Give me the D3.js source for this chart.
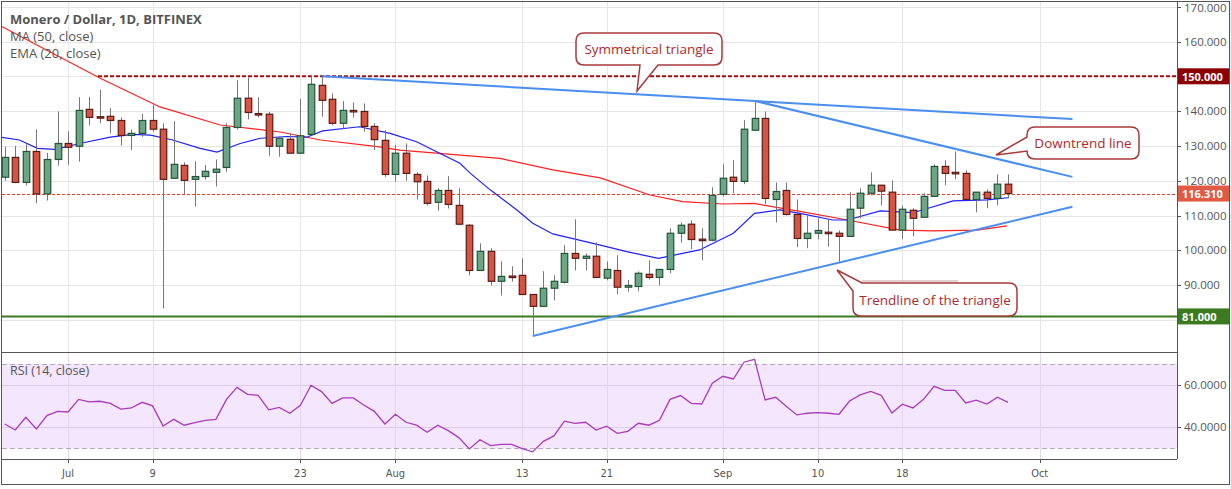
<!DOCTYPE html>
<html>
<head>
<meta charset="utf-8">
<script src="https://cdn.jsdelivr.net/npm/d3@7"></script>
<style>
  body { margin: 0; background: #fff; }
  svg { display: block; font-family: "Open Sans", sans-serif; }
</style>
</head>
<body>
<svg id="chart" width="1231" height="489"></svg>
<script>
// candles from Jun 25 to Sep 28, one per day
const opens  = [121.0,126.7,119.5,128.4,116.2,126.1,130.7,129.9,140.5,138.4,138.5,137.3,133.0,133.6,137.3,134.8,120.7,124.4,120.4,121.2,122.4,123.8,135.3,143.7,139.3,139.1,129.9,131.9,
  127.9,133.3,147.4,143.4,136.5,140.2,139.9,135.6,131.6,121.8,127.9,121.8,119.8,113.8,117.2,112.9,107.2,94.2,99.7,91.1,92.6,92.8,87.3,83.9,89.1,90.8,99.1,97.7,
  98.3,92.0,94.2,89.4,89.6,93.1,92.2,94.5,104.9,107.5,103.2,102.9,116.1,121.0,119.8,134.5,137.9,114.6,117.2,110.3,103.4,104.9,105.2,104.9,104.0,112.1,116.4,
  118.7,116.7,105.8,111.5,109.5,115.5,124.1,122.4,122.1,114.6,116.7,114.9,119.0]
const closes = [126.7,119.5,128.4,116.2,126.1,130.7,129.6,140.2,138.2,138.0,137.3,133.0,133.6,137.3,134.8,120.4,124.7,120.1,121.2,122.7,123.3,135.3,143.7,139.6,139.1,129.9,132.2,127.9,
  132.9,147.7,143.1,136.5,140.2,139.9,135.6,131.8,121.8,127.9,122.1,119.7,113.5,117.2,113.2,107.5,94.2,99.7,91.1,92.5,92.5,87.3,83.9,89.1,91.1,99.1,97.7,98.3,
  92.2,94.5,89.4,89.9,93.4,92.2,94.5,104.9,107.2,103.1,102.9,115.8,120.7,119.8,134.8,137.9,114.9,116.9,110.3,103.4,104.9,105.7,104.9,104.0,111.8,116.4,118.7,
  117.0,105.8,111.8,109.2,115.5,124.1,122.1,122.1,114.6,116.7,114.9,119.0,116.31]
const highs  = [129.8,130.0,130.5,134.7,128.0,139.9,134.2,144.0,144.1,146.1,140.9,138.2,134.7,139.2,141.7,136.5,137.1,125.3,125.6,124.5,126.1,136.5,148.9,149.7,144.0,139.8,132.6,133.6,
  143.5,150.4,150.1,145.1,142.9,142.5,142.2,136.5,134.5,130.2,130.7,122.5,121.5,117.9,121.3,117.8,107.5,102.0,100.6,96.8,95.4,97.7,87.3,94.0,92.8,101.5,108.9,99.1,
  102.3,96.8,98.6,91.5,93.9,97.1,94.5,106.3,108.0,108.6,106.3,118.1,124.7,125.9,137.4,142.8,139.9,119.5,119.5,114.6,110.1,109.2,108.9,105.7,116.7,117.8,122.4,
  118.7,120.1,112.9,112.1,116.4,124.7,125.9,128.4,123.0,116.7,117.5,121.8,121.8]
const lows   = [120.0,119.5,118.6,113.5,114.3,124.3,124.6,125.5,135.9,136.5,133.6,130.1,128.8,132.6,134.1,83.3,120.7,116.2,112.6,120.3,118.3,122.6,134.7,137.6,138.2,127.2,126.9,127.9,
  127.9,133.3,138.4,136.0,134.8,138.2,134.1,128.8,121.1,119.7,120.0,114.6,112.9,111.4,112.0,107.2,92.8,94.2,89.9,87.0,91.0,87.3,75.3,83.9,85.6,90.5,94.2,94.2,
  92.2,91.4,87.4,88.1,88.2,91.6,89.9,93.4,102.2,100.3,97.1,102.6,115.5,116.4,119.0,134.5,113.2,108.0,110.0,100.9,100.6,103.2,101.1,96.3,104.0,109.2,115.8,
  112.9,105.8,103.2,104.0,109.5,115.5,118.7,120.4,114.6,110.9,112.1,112.9,114.9]
const rsi = [41.6,38.7,44.8,39.2,45.6,47.6,47.3,53.3,52.1,52.4,51.4,48.7,49.2,51.9,50.2,40.6,43.8,41.0,42.2,43.3,43.8,53.3,59.0,55.7,55.2,48.3,49.5,46.7,50.5,60.0,
  57.0,51.4,54.0,54.0,50.6,47.6,41.6,46.2,42.4,41.0,37.6,41.0,38.4,35.1,29.7,34.1,31.3,31.9,31.9,29.8,28.3,33.3,35.9,42.9,41.9,42.4,38.7,
  40.5,37.1,38.1,41.9,41.0,43.3,53.3,55.1,51.4,51.1,61.0,64.3,63.0,71.0,72.4,53.0,54.3,50.0,45.9,46.7,47.0,46.7,46.2,52.5,55.4,57.1,55.2,46.8,51.0,
  49.2,53.3,59.5,57.6,57.6,51.6,52.9,51.1,54.3,51.9]

// moving averages: [candle index, value]
const ma50 = [[-0.4,164.5],[9.0,149.5],[14.7,141.2],[20.4,136.0],[26.1,134.0],[29.9,131.7],[35.5,129.7],[37.4,128.8],[46.9,126.4],[51.9,123.1],
  [56.4,120.8],[61.1,115.9],[64.2,114.0],[68.0,113.3],[70.9,113.5],[75.3,111.2],[79.8,108.7],[84.8,105.8],[87.9,105.6],[92.1,105.8],[94.9,107.0]]
const ema20 = [[-0.4,132.5],[1.4,131.7],[3.1,129.3],[4.8,129.0],[7.1,130.7],[10.0,132.5],[12.1,133.3],[13.8,133.1],[15.9,131.7],[18.5,129.3],
  [20.1,128.2],[22.3,130.7],[24.2,132.2],[26.7,132.7],[28.6,132.5],[30.1,134.3],[33.6,135.5],[36.5,133.6],[39.0,131.2],[40.9,128.3],[43.1,125.0],
  [44.1,122.1],[46.0,117.3],[48.5,111.6],[50.0,107.8],[51.9,104.7],[56.4,101.5],[58.9,99.6],[61.9,97.7],[65.8,100.1],[69.0,104.9],[71.0,110.6],
  [73.4,111.6],[75.3,110.6],[78.4,108.7],[79.8,108.7],[82.9,111.3],[86.0,110.8],[89.8,114.2],[93.0,114.5],[95.0,115.1]]

const trendLines = [
  [[30.05,150.0],[101.1,137.7]],
  [[71.06,142.9],[101.1,121.1]],
  [[50.0,75.4],[101.1,112.5]]
]

const tickIdx = [6,14,28,37,49,57,68,77,85,98]
const tickLabels = ['Jul','9','23','Aug','13','21','Sep','10','18','Oct']
const priceTicks = [170,160,150,140,130,120,110,100,90]
const rsiTicks = [60,40]
const levels = [150, 116.31, 81]
const levelColors = ['#8b0000', '#e05a44', '#3b7a1e']

const H = 489
const left = 2, plotR = 1177, mainTop = 2, mainBot = 352, rsiTop = 353, rsiBot = 459

const svg = d3.select('#chart')
const x = d3.scaleLinear().domain([0, 95]).range([4.7, 1008])
const y = d3.scaleLinear().domain([170, 80]).range([6.7, 319.9])
const yr = d3.scaleLinear().domain([70, 30]).range([364.3, 448.3])
const snap = v => Math.round(v) + 0.5

svg.append('defs').append('clipPath').attr('id', 'mainClip')
  .append('rect').attr('x', left).attr('y', mainTop).attr('width', plotR - left).attr('height', mainBot - mainTop)
svg.select('defs').append('clipPath').attr('id', 'rsiClip')
  .append('rect').attr('x', left).attr('y', rsiTop).attr('width', plotR - left).attr('height', rsiBot - rsiTop)

// grid
const grid = svg.append('g').attr('stroke', '#e6e6e6').attr('stroke-width', 1)
priceTicks.concat([80]).forEach(p => grid.append('line').attr('x1', left).attr('x2', plotR).attr('y1', snap(y(p))).attr('y2', snap(y(p))))
tickIdx.forEach(t => {
  grid.append('line').attr('x1', snap(x(t))).attr('x2', snap(x(t))).attr('y1', mainTop).attr('y2', mainBot)
})

const main = svg.append('g').attr('clip-path', 'url(#mainClip)')

// horizontal levels
main.append('line').attr('x1', left).attr('x2', plotR).attr('y1', snap(y(116.31))).attr('y2', snap(y(116.31)))
  .attr('stroke', '#f03c28').attr('stroke-dasharray', '3,2')
main.append('line').attr('x1', 98).attr('x2', plotR).attr('y1', y(150)).attr('y2', y(150))
  .attr('stroke', '#a01010').attr('stroke-width', 2).attr('stroke-dasharray', '4,2')
main.append('line').attr('x1', left).attr('x2', plotR).attr('y1', y(81)).attr('y2', y(81))
  .attr('stroke', '#3f7a27').attr('stroke-width', 2)

const line = d3.line().x(d => x(d[0])).y(d => y(d[1]))
main.append('path').datum(ma50).attr('d', line).attr('fill', 'none').attr('stroke', '#ff2020').attr('stroke-width', 1.2)
main.append('path').datum(ema20).attr('d', line).attr('fill', 'none').attr('stroke', '#2020ff').attr('stroke-width', 1.2)

// candles
const idx = d3.range(opens.length)
const bw = 6.5
main.append('g').selectAll('line').data(idx).join('line')
  .attr('x1', i => snap(x(i))).attr('x2', i => snap(x(i)))
  .attr('y1', i => y(highs[i])).attr('y2', i => y(lows[i]))
  .attr('stroke', '#77777a')
main.append('g').selectAll('rect').data(idx).join('rect')
  .attr('x', i => snap(x(i)) - bw / 2)
  .attr('y', i => y(Math.max(opens[i], closes[i])))
  .attr('width', bw)
  .attr('height', i => Math.max(1.5, Math.abs(y(opens[i]) - y(closes[i]))))
  .attr('fill', i => closes[i] >= opens[i] ? '#6ba583' : '#d75442')
  .attr('stroke', i => closes[i] >= opens[i] ? '#225437' : '#5b1a13')
  .attr('stroke-width', 1.2)

// triangle lines
trendLines.forEach(t => main.append('path').datum(t).attr('d', line)
  .attr('fill', 'none').attr('stroke', '#4a8ef0').attr('stroke-width', 2))

// callouts
function callout(path, tx, ty, text) {
  main.append('path').attr('d', path).attr('fill', '#fff').attr('stroke', '#a83a3a').attr('stroke-width', 1.5)
  main.append('text').attr('x', tx).attr('y', ty).attr('text-anchor', 'middle')
    .attr('fill', '#b02a2a').attr('font-size', 13.5).text(text)
}
callout('M584,33 H714 Q722,33 722,41 V57 Q722,65 714,65 H658 L637,91 L640,65 H584 Q576,65 576,57 V41 Q576,33 584,33 Z', 649, 54, 'Symmetrical triangle')
callout('M1035,127 H1131 Q1139,127 1139,135 V151 Q1139,159 1131,159 H1035 Q1027,159 1027,151 L996,155 L1027,137 V135 Q1027,127 1035,127 Z', 1083, 148, 'Downtrend line')
callout('M862,283 H1009 Q1017,283 1017,291 V308 Q1017,316 1009,316 H861 Q853,316 853,308 V291 L837,270 Z', 935, 305, 'Trendline of the triangle')
main.append('line').attr('x1', 862).attr('x2', 958).attr('y1', 281).attr('y2', 281).attr('stroke', '#c9a0a0').attr('stroke-width', 1)

// legend
svg.append('text').attr('x', 10).attr('y', 24).attr('font-size', 13).attr('font-weight', 'bold').attr('fill', '#555').text('Monero / Dollar, 1D, BITFINEX')
svg.append('text').attr('x', 10).attr('y', 41).attr('font-size', 13).attr('fill', '#555').text('MA (50, close)')
svg.append('text').attr('x', 10).attr('y', 58).attr('font-size', 13).attr('fill', '#555').text('EMA (20, close)')

// RSI pane
const rsiG = svg.append('g').attr('clip-path', 'url(#rsiClip)')
rsiG.append('rect').attr('x', left).attr('y', yr(70)).attr('width', plotR - left).attr('height', yr(30) - yr(70)).attr('fill', '#f3e6fd')
rsiTicks.forEach(v => rsiG.append('line').attr('x1', left).attr('x2', plotR).attr('y1', snap(yr(v))).attr('y2', snap(yr(v))).attr('stroke', '#dccbe8'))
tickIdx.forEach(t => rsiG.append('line').attr('x1', snap(x(t))).attr('x2', snap(x(t))).attr('y1', rsiTop).attr('y2', rsiBot).attr('stroke', '#e2d8ea'))
;[70, 30].forEach(v => rsiG.append('line').attr('x1', left).attr('x2', plotR).attr('y1', snap(yr(v))).attr('y2', snap(yr(v)))
  .attr('stroke', '#b5a5be').attr('stroke-dasharray', '5,3'))
rsiG.append('path').datum(rsi).attr('d', d3.line().x((d, i) => x(i)).y(d => yr(d)))
  .attr('fill', 'none').attr('stroke', '#a93bbd').attr('stroke-width', 1.3)
svg.append('text').attr('x', 10).attr('y', 375).attr('font-size', 12.5).attr('fill', '#555').text('RSI (14, close)')

// frame
const frame = svg.append('g').attr('stroke', '#555').attr('fill', 'none')
frame.append('rect').attr('x', 1.5).attr('y', 1.5).attr('width', 1228).attr('height', 483)
frame.append('line').attr('x1', plotR + 0.5).attr('x2', plotR + 0.5).attr('y1', 1.5).attr('y2', rsiBot)
frame.append('line').attr('x1', 1.5).attr('x2', plotR).attr('y1', rsiTop - 0.5).attr('y2', rsiTop - 0.5)
frame.append('line').attr('x1', 1.5).attr('x2', plotR).attr('y1', rsiBot + 0.5).attr('y2', rsiBot + 0.5)
svg.append('rect').attr('x', 1230).attr('y', 0).attr('width', 1).attr('height', H).attr('fill', '#f0f3fa')

// price axis
const ax = svg.append('g').attr('font-size', 11.5).attr('fill', '#555')
priceTicks.forEach(p => {
  ax.append('line').attr('x1', plotR).attr('x2', plotR + 4).attr('y1', snap(y(p))).attr('y2', snap(y(p))).attr('stroke', '#555')
  if (levels.indexOf(p) < 0)
    ax.append('text').attr('x', plotR + 7).attr('y', Math.max(y(p) + 4, 12)).text(d3.format('.3f')(p))
})
rsiTicks.forEach(v => {
  ax.append('line').attr('x1', plotR).attr('x2', plotR + 4).attr('y1', snap(yr(v))).attr('y2', snap(yr(v))).attr('stroke', '#555')
  ax.append('text').attr('x', plotR + 7).attr('y', yr(v) + 4).text(d3.format('.4f')(v))
})
levels.forEach((v, k) => {
  ax.append('rect').attr('x', plotR + 1).attr('y', y(v) - 8).attr('width', 51).attr('height', 16).attr('fill', levelColors[k])
  ax.append('text').attr('x', plotR + 5).attr('y', y(v) + 4.5).attr('fill', '#fff').attr('font-weight', 'bold').attr('font-size', 11).text(d3.format('.3f')(v))
})

// time axis
const tx = svg.append('g').attr('font-size', 11).attr('fill', '#555').attr('font-family', '"DejaVu Sans Condensed", sans-serif')
tickIdx.forEach((t, k) => {
  tx.append('line').attr('x1', snap(x(t))).attr('x2', snap(x(t))).attr('y1', rsiBot).attr('y2', rsiBot + 4).attr('stroke', '#555')
  tx.append('text').attr('x', x(t)).attr('y', 477).attr('text-anchor', 'middle').text(tickLabels[k])
})
</script>
</body>
</html>
